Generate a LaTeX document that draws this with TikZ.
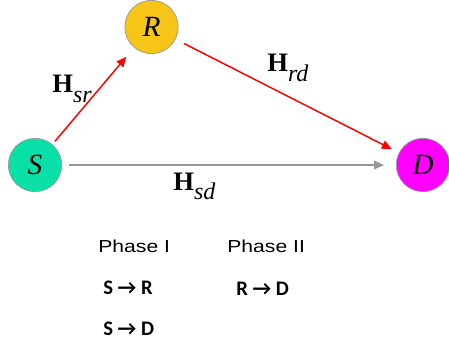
\documentclass[tikz,border=0pt]{standalone}
\usepackage{fontspec}
\setmainfont{Liberation Serif}
\newfontfamily\phasefont{Liberation Sans}
\newfontfamily\boldsans{Carlito}
\usetikzlibrary{arrows.meta}
\definecolor{sgreen}{RGB}{8,224,168}
\definecolor{rgold}{RGB}{247,196,24}
\definecolor{dmag}{RGB}{255,0,255}
\definecolor{edgegrey}{RGB}{150,150,150}
\definecolor{linegrey}{RGB}{150,150,150}
\newcommand{\hlab}[1]{{\fontsize{20}{20}\selectfont\bfseries H}\raisebox{-7pt}{\fontsize{18}{18}\selectfont\itshape #1}}
\tikzset{
  station/.style={circle, draw=edgegrey, line width=0.5pt, inner sep=0pt, minimum size=40pt, font=\fontsize{22}{22}\selectfont\itshape},
  redlink/.style={draw=red, line width=1.1pt, -{Triangle[length=7.5pt,width=6.5pt]}},
  greylink/.style={draw=linegrey, line width=1pt, -{Triangle[length=7.5pt,width=6.5pt]}},
  lab/.style={anchor=base west, inner sep=0pt},
  phase/.style={anchor=base west, inner sep=0pt, font=\phasefont\fontsize{13}{13}\selectfont, xscale=1.22},
  route/.style={anchor=base west, inner sep=0pt, font=\boldsans\bfseries\fontsize{15.5}{15.5}\selectfont}
}
\begin{document}
\begin{tikzpicture}[x=0.75pt,y=-0.75pt]
\useasboundingbox (0,0) rectangle (449,349);
\node[station, fill=sgreen] (S) at (35,165) {S};
\node[station, fill=rgold] (R) at (151.5,27) {R};
\node[station, fill=dmag] (D) at (423,165) {D};
\draw[redlink, shorten <=3pt, shorten >=9pt] (S) -- (R);
\draw[redlink, shorten <=7pt, shorten >=6pt] (R) -- (D);
\draw[greylink, shorten <=5pt, shorten >=9pt] (S) -- (D);
\node[lab] (hsr) at (52,93) {\hlab{sr}};
\node[lab] (hrd) at (267,72) {\hlab{rd}};
\node[lab] (hsd) at (173,190) {\hlab{sd}};
\node[phase] (p1) at (98,252) {Phase I};
\node[phase] (p2) at (227,252) {Phase II};
\node[route] (sr) at (103,294) {S → R};
\node[route] (rd) at (236,295) {R → D};
\node[route] (sd) at (103,335) {S → D};
\end{tikzpicture}
\end{document}
